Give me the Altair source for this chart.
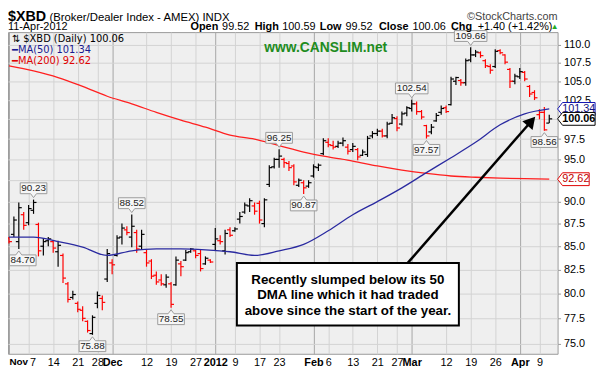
import json
import altair as alt
import pandas as pd

# ---------------- data ----------------
opens = [85.9, 86.3, 85.5, 88.5, 87.6, 89.0, 87.4, 85.0, 85.6, 85.5,
         84.4, 84.0, 81.0, 79.6, 79.0, 78.3, 77.2, 76.0, 79.0, 79.5,
         81.5, 83.2, 84.0, 86.0, 86.8, 86.0, 86.5, 85.0, 84.3, 83.4,
         81.9, 81.4, 80.9, 81.0, 80.9, 83.1, 83.5, 84.4, 84.5, 84.2,
         83.1, 83.5, 85.2, 85.6, 84.5, 86.8, 86.7, 88.0, 88.8, 89.5,
         89.5, 89.8, 87.5, 92.0, 94.1, 95.0, 95.0, 94.5, 94.2, 91.9,
         92.2, 91.8, 93.0, 94.0, 95.7, 97.1, 96.7, 96.6, 97.0, 96.5,
         96.2, 96.2, 95.5, 95.6, 97.9, 98.2, 98.5, 97.9, 99.5, 100.1,
         99.4, 100.8, 101.4, 102.0, 101.0, 99.2, 98.4, 99.8, 100.9, 101.5,
         101.9, 105.0, 105.1, 104.8, 107.9, 108.6, 108.9, 107.8, 107.0, 107.0,
         109.2, 108.6, 106.6, 105.0, 105.6, 106.2, 104.3, 103.5, 100.6, 100.9,
         99.52]
highs = [86.0, 88.3, 89.9, 88.8, 89.6, 90.23, 87.6, 85.9, 86.0, 85.6,
         85.6, 84.2, 81.2, 80.3, 79.2, 78.7, 77.3, 77.8, 80.2, 79.8,
         84.7, 83.6, 86.2, 87.5, 87.2, 88.52, 86.8, 86.8, 84.6, 83.6,
         82.3, 82.0, 82.0, 81.2, 83.9, 83.4, 84.6, 84.8, 84.6, 84.6,
         83.9, 83.6, 87.0, 86.2, 86.8, 87.1, 87.1, 88.8, 89.9, 90.4,
         89.9, 90.1, 90.4, 94.3, 95.2, 96.25, 95.2, 94.8, 94.4, 92.7,
         92.5, 92.5, 94.4, 94.5, 97.6, 97.6, 97.3, 97.3, 97.7, 96.9,
         97.0, 96.4, 96.2, 97.9, 98.5, 98.8, 98.8, 99.7, 100.7, 100.4,
         101.0, 101.7, 102.54, 102.3, 101.2, 99.3, 99.4, 100.8, 101.8, 101.8,
         105.6, 105.6, 105.3, 108.1, 109.66, 109.3, 109.1, 108.0, 107.3, 109.4,
         109.4, 108.7, 106.8, 106.0, 106.8, 106.4, 104.5, 103.8, 101.3, 101.6,
         100.59]
lows = [85.3, 86.0, 84.70, 86.8, 87.3, 88.6, 83.9, 84.0, 85.0, 84.3,
        82.8, 81.1, 79.1, 79.4, 78.1, 77.2, 76.1, 75.88, 78.5, 78.3,
        81.2, 82.0, 83.9, 85.2, 86.2, 84.9, 84.3, 84.7, 82.8, 81.5,
        80.9, 80.8, 80.6, 78.55, 80.8, 81.8, 83.4, 84.3, 83.7, 82.3,
        83.0, 83.2, 84.6, 85.2, 84.1, 86.0, 86.6, 87.5, 88.6, 88.8,
        88.5, 87.5, 87.1, 91.7, 93.9, 94.0, 94.0, 93.6, 91.9, 91.7,
        90.87, 91.6, 92.8, 93.6, 95.5, 96.5, 96.2, 96.4, 96.6, 95.6,
        95.9, 94.9, 95.4, 95.3, 97.6, 97.9, 97.7, 97.6, 99.4, 98.5,
        99.2, 100.4, 101.0, 100.6, 100.0, 97.57, 98.1, 99.7, 100.6, 100.8,
        101.8, 104.5, 104.4, 104.4, 107.6, 108.3, 108.2, 106.8, 106.0, 106.8,
        108.7, 107.3, 104.1, 104.6, 105.3, 105.0, 102.9, 102.5, 100.0, 98.56,
        99.52]
closes = [85.5, 87.9, 89.3, 87.3, 89.2, 89.9, 84.5, 85.5, 85.8, 84.8,
          85.1, 81.6, 79.4, 79.9, 78.4, 77.5, 76.3, 77.6, 79.8, 79.1,
          84.2, 83.0, 85.9, 87.0, 86.5, 87.2, 84.7, 86.3, 83.2, 81.8,
          81.2, 81.0, 81.7, 78.9, 83.5, 82.8, 84.3, 84.7, 84.0, 82.6,
          83.7, 83.3, 85.8, 85.5, 86.4, 86.2, 86.9, 88.3, 89.6, 90.1,
          88.9, 87.9, 90.2, 94.0, 95.0, 95.4, 94.6, 94.0, 92.3, 92.5,
          91.6, 92.2, 94.1, 94.3, 97.3, 96.8, 96.5, 97.0, 97.3, 96.0,
          96.6, 95.3, 95.9, 97.6, 98.2, 98.5, 97.9, 99.4, 100.2, 98.9,
          100.7, 101.5, 102.0, 101.0, 100.3, 97.9, 99.0, 100.5, 101.4, 101.0,
          105.3, 105.5, 104.8, 107.8, 108.6, 109.0, 108.5, 107.1, 106.5, 109.1,
          108.9, 107.6, 105.0, 105.7, 106.3, 105.3, 103.3, 102.8, 100.9, 98.66,
          100.06]

# moving averages, read every 5 trading days
ma_idx = [0, 5, 10, 15, 20, 25, 30, 35, 40, 45, 50, 55, 60, 65, 70, 75, 80, 85, 90, 95, 100, 105, 110]
ma50 = [86.0, 86.0, 85.5, 84.9, 84.0, 84.5, 84.7, 84.7, 84.6, 84.4, 84.0, 84.5,
        85.2, 86.7, 88.5, 90.0, 91.6, 93.4, 95.2, 97.1, 99.3, 100.7, 101.34]
ma200 = [107.1, 106.4, 105.5, 104.3, 103.0, 102.0, 100.9, 99.9, 99.0, 98.0, 97.5, 96.7,
         95.9, 95.3, 94.8, 94.2, 93.7, 93.3, 93.0, 92.85, 92.75, 92.68, 92.62]

# x-axis (trading-day index of each labelled date)
tick_pos = [0, 4, 9, 14, 18, 21, 28, 33, 38, 42, 46, 51, 55, 62, 65, 70, 75, 79, 82, 89, 94, 99, 104, 108]
tick_labels = ["Nov", "7", "14", "21", "28", "Dec", "12", "19", "27", "2012", "9", "17", "23",
               "Feb", "6", "13", "21", "27", "Mar", "12", "19", "26", "Apr", "9"]
month_pos = [0, 21, 42, 62, 82, 104]
y_ticks = [75.0, 77.5, 80.0, 82.5, 85.0, 87.5, 90.0, 92.5, 95.0, 97.5, 100.0, 102.5, 105.0, 107.5, 110.0]

# high / low call-outs
label_idx = [5, 2, 25, 17, 33, 55, 60, 82, 85, 94, 109]
label_val = [90.23, 84.70, 88.52, 75.88, 78.55, 96.25, 90.87, 102.54, 97.57, 109.66, 98.56]
label_side = ["hi", "lo", "hi", "lo", "lo", "hi", "lo", "hi", "lo", "hi", "lo"]
label_shift = [0, 4, 0, 0, 0, 0, 0, 0, 0, 0, 0]   # px nudge of the box away from the left edge

# right-edge last values
last_ma50 = 101.34
last_close = 100.06
last_ma200 = 92.62

# ---------------- build frames ----------------
PX_PER_DAY = 557 / 111.9
n = len(closes)
trend = ["dn"] + ["up" if closes[k] > closes[k - 1] else "dn" for k in range(1, n)]
bars = pd.DataFrame({"i": list(range(n)), "o": opens, "h": highs, "l": lows, "c": closes, "t": trend})
ma = pd.DataFrame({"i": ma_idx, "m50": ma50, "m200": ma200})


def label_path(w, side, shift):
    u = w / 2.0
    s = -1 if side == "hi" else 1
    a = shift
    pts = [(0, 2 * s), (3, 6 * s), (a + w / 2, 6 * s), (a + w / 2, 17 * s), (a - w / 2, 17 * s),
           (a - w / 2, 6 * s), (-3, 6 * s)]
    return "M" + " L".join(f"{x / u:.4f},{y / u:.4f}" for x, y in pts) + " Z"


lab_txt = [f"{v:.2f}" for v in label_val]
lab_w = [6 * len(t) - 3 for t in lab_txt]
labels = pd.DataFrame({
    "i": label_idx, "v": label_val, "side": label_side, "txt": lab_txt,
    "ti": [i + a / PX_PER_DAY for i, a in zip(label_idx, label_shift)],
    "path": [label_path(w, s, a) for w, s, a in zip(lab_w, label_side, label_shift)],
    "sz": [w * w for w in lab_w],
})


def tag_path(W):
    u = W / 2.0
    pts = [(0, 0), (5, -6.5), (W, -6.5), (W, 6.5), (5, 6.5)]
    return "M" + " L".join(f"{x / u:.4f},{y / u:.4f}" for x, y in pts) + " Z"


xs = alt.Scale(domain=[-0.2, 111.7], nice=False, zero=False)
ys = alt.Scale(type="log", domain=[74.06, 111.82], nice=False, zero=False)
FONT = "Liberation Sans"

month_test = f"indexof({json.dumps(month_pos)}, datum.value) >= 0"
xaxis = alt.Axis(
    values=tick_pos,
    labelExpr=f"{json.dumps(tick_labels)}[indexof({json.dumps(tick_pos)}, datum.value)]",
    grid=True,
    gridColor={"condition": {"test": month_test, "value": "#a6a6a6"}, "value": "#d2d2d2"},
    labelFontWeight={"condition": {"test": month_test, "value": "bold"}, "value": "normal"},
    labelFontSize={"condition": {"test": "datum.value == 0", "value": 10}, "value": 11},
    labelOffset={"condition": {"test": "datum.value == 4", "value": 4}, "value": 0},
    ticks=False, domain=False, labelPadding=3, labelFont=FONT,
    labelColor="black", labelFlush=4, labelOverlap=False, title=None,
)
yaxis = alt.Axis(
    orient="right", values=y_ticks, format=".1f", grid=True, gridColor="#d2d2d2",
    ticks=True, tickSize=3, tickColor="#999999", domain=False, labelFont=FONT,
    labelFontSize=11, labelColor="black", labelPadding=3, labelOverlap=False, title=None,
)


def X(f):
    return alt.X(f, type="quantitative", scale=xs, axis=xaxis)


def Y(f):
    return alt.Y(f, type="quantitative", scale=ys, axis=yaxis)


col = alt.Color("t:N", scale=alt.Scale(domain=["up", "dn"], range=["#000000", "#ff0000"]), legend=None)

base = alt.Chart(bars)
hl = base.mark_rule(strokeWidth=1.2).encode(x=X("i"), y=Y("l"), y2="h", color=col)
op = base.mark_rule(strokeWidth=1.2, xOffset=-3, x2Offset=0).encode(x=X("i"), x2="i", y=Y("o"), color=col)
cl = base.mark_rule(strokeWidth=1.2, xOffset=0, x2Offset=3).encode(x=X("i"), x2="i", y=Y("c"), color=col)

line200 = alt.Chart(ma).mark_line(color="#ff2020", strokeWidth=1.3, interpolate="monotone").encode(x=X("i"), y=Y("m200"))
line50 = alt.Chart(ma).mark_line(color="#2a2aa0", strokeWidth=1.3, interpolate="monotone").encode(x=X("i"), y=Y("m50"))

boxes = alt.Chart(labels).mark_point(filled=True, fill="#f6f6f6", stroke="#9a9a9a", strokeWidth=1,
                                     opacity=1, fillOpacity=1, strokeOpacity=1).encode(
    x=X("i"), y=Y("v"), shape=alt.Shape("path:N", scale=None), size=alt.Size("sz:Q", scale=None))
txt_hi = alt.Chart(labels).transform_filter("datum.side == 'hi'").mark_text(
    font=FONT, fontSize=10, color="#222222", dy=-11.5, baseline="middle").encode(
    x=X("ti"), y=Y("v"), text="txt:N")
txt_lo = alt.Chart(labels).transform_filter("datum.side == 'lo'").mark_text(
    font=FONT, fontSize=10, color="#222222", dy=11.5, baseline="middle").encode(
    x=X("ti"), y=Y("v"), text="txt:N")

# right-edge tags
tags = pd.DataFrame({
    "v": [last_ma50, last_close, last_ma200],
    "txt": [f"{last_ma50:.2f}", f"{last_close:.2f}", f"{last_ma200:.2f}"],
    "stroke": ["#1010b0", "#000000", "#e00000"],
    "tcol": ["#101080", "#000000", "#c00000"],
    "path": [tag_path(38), tag_path(38), tag_path(32)],
    "sz": [38 * 38, 38 * 38, 32 * 32],
    "w": ["normal", "bold", "normal"],
    "xc": [578.5, 578.5, 575.5],
})
tag_marks = alt.Chart(tags).mark_point(filled=True, fill="white", strokeWidth=1, opacity=1,
                                       fillOpacity=1, strokeOpacity=1).encode(
    x=alt.value(557), y=Y("v"), shape=alt.Shape("path:N", scale=None), size=alt.Size("sz:Q", scale=None),
    stroke=alt.Stroke("stroke:N", scale=None))
tag_txt_n = alt.Chart(tags).transform_filter("datum.w == 'normal'").mark_text(
    font=FONT, fontSize=11, baseline="middle").encode(
    x=alt.X("xc:Q", scale=None), y=Y("v"), text="txt:N", color=alt.Color("tcol:N", scale=None))
tag_txt_b = alt.Chart(tags).transform_filter("datum.w == 'bold'").mark_text(
    font=FONT, fontSize=11, fontWeight="bold", baseline="middle").encode(
    x=alt.X("xc:Q", scale=None), y=Y("v"), text="txt:N", color=alt.Color("tcol:N", scale=None))

# annotation box and arrow (anchored in data coordinates)
note_box = alt.Chart(pd.DataFrame({"x1": [46.4], "x2": [91.6], "y1": [83.2], "y2": [76.8]})).mark_rect(
    fill="white", stroke="black", strokeWidth=2).encode(x=X("x1"), x2="x2", y=Y("y1"), y2="y2")
note_lines = ["Recently slumped below its 50", "DMA line which it had traded", "above since the start of the year."]
note_txt = alt.Chart(pd.DataFrame({"i": [69.0, 69.0, 69.0], "v": [81.4, 79.8, 78.2], "t": note_lines})).mark_text(
    font=FONT, fontSize=13.5, fontWeight="bold", color="black", baseline="middle").encode(
    x=X("i"), y=Y("v"), text="t:N")
arrow = alt.Chart(pd.DataFrame({"x1": [81.2], "x2": [106.35], "y1": [83.2], "y2": [99.76]})).mark_rule(
    strokeWidth=2.5, color="black").encode(x=X("x1"), x2="x2", y=Y("y1"), y2="y2")
head = alt.Chart(pd.DataFrame({"i": [106.35], "v": [99.76]})).mark_point(
    shape="triangle-up", angle=41, size=190, filled=True, color="black", opacity=1).encode(x=X("i"), y=Y("v"))


# header / legend texts (pixel positions relative to plot area)
def txt(t, x, y, size=11, weight="normal", color="black", align="left", font=FONT):
    return alt.Chart(pd.DataFrame({"t": [t]})).mark_text(
        font=font, fontSize=size, fontWeight=weight, color=color, align=align, baseline="alphabetic").encode(
        text="t:N", x=alt.value(x), y=alt.value(y))


texts = [
    txt("$XBD", 0, -11, size=14.5, weight="bold"),
    txt("(Broker/Dealer Index - AMEX)", 42, -11, size=11.5),
    txt("INDX", 197, -11, size=11.5),
    txt("\u00a9StockCharts.com", 557, -12, size=11, color="#444444", align="right"),
    txt("11-Apr-2012", 0, -2, size=11),
    txt("Open", 185, -2, weight="bold"), txt("99.52", 217, -2),
    txt("High", 250, -2, weight="bold"), txt("100.59", 278, -2),
    txt("Low", 316, -2, weight="bold"), txt("99.52", 342, -2),
    txt("Close", 376, -2, weight="bold"), txt("100.06", 410, -2),
    txt("Chg", 449, -2, weight="bold"), txt("+1.40 (+1.42%)", 476, -2),
    txt("\u25b2", 550, -3, size=8, color="#22aa22"),
    txt("\u21c5 $XBD (Daily) 100.06", 4, 10, size=10, font="DejaVu Sans"),
    txt("\u2501MA(50) 101.34", 4, 21, size=10, color="#1a1a90", font="DejaVu Sans"),
    txt("\u2501MA(200) 92.62", 4, 32, size=10, color="#e00000", font="DejaVu Sans"),
    txt("www.CANSLIM.net", 322, 20, size=14, weight="bold", color="#1e8c1e", align="center"),
]

chart = alt.layer(
    hl, op, cl, line200, line50, boxes, txt_hi, txt_lo, tag_marks, tag_txt_n, tag_txt_b,
    note_box, note_txt, arrow, head, *texts
).properties(
    width=557, height=326,
    padding={"left": 0, "top": 22, "right": 45, "bottom": 14},
    autosize=alt.AutoSizeParams(type="none"),
    background="white",
).configure_view(fill="#efefef", stroke="#9a9a9a")

chart.save("out.html", embed_options={"renderer": "svg", "actions": False})
